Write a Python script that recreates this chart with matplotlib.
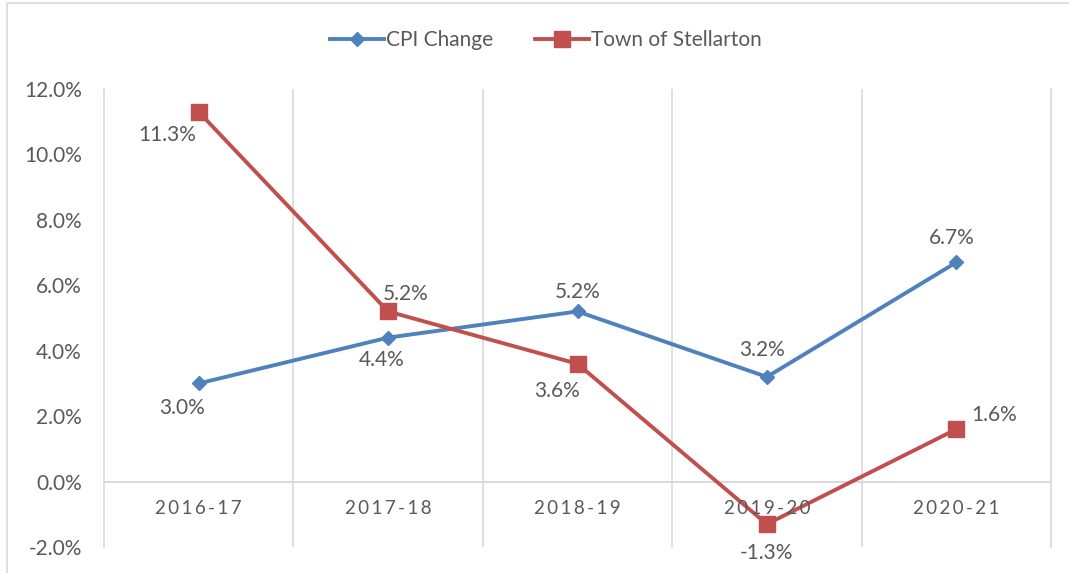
import matplotlib
matplotlib.use("Agg")
import matplotlib.pyplot as plt
from matplotlib.patches import Rectangle
from matplotlib.ticker import FuncFormatter, FixedLocator

years = ["2016-17", "2017-18", "2018-19", "2019-20", "2020-21"]
cpi_change = [3.0, 4.4, 5.2, 3.2, 6.7]
stellarton = [11.3, 5.2, 3.6, -1.3, 1.6]

# label offsets in pixels (dx, dy) for each point
cpi_offsets = [(-17, -25), (-6, -22), (0, 19), (-5, 27), (-5, 24)]
town_offsets = [(-31, -23), (18, 17), (-20, -27), (0, -29), (38, 14)]

blue = "#4F81BD"
red = "#C0504D"
grid_col = "#D9D9D9"
text_col = "#595959"

plt.rcParams["font.family"] = ["Lato", "DejaVu Sans"]

fig = plt.figure(figsize=(10.69, 5.73), dpi=100)
ax = fig.add_axes([104 / 1069, 1 - 547 / 573, (1051 - 104) / 1069, (547 - 89) / 573])

x = list(range(len(years)))
ax.plot(x, cpi_change, color=blue, lw=2.8, marker="D", ms=7.5,
        label="CPI Change", zorder=3)
ax.plot(x, stellarton, color=red, lw=2.8, marker="s", ms=11.5,
        label="Town of Stellarton", zorder=3)

for xi, v, (dx, dy) in zip(x, cpi_change, cpi_offsets):
    ax.annotate(f"{v:.1f}%", (xi, v), xytext=(dx, dy), textcoords="offset pixels",
                ha="center", va="center", fontsize=15, color=text_col, zorder=4)
for xi, v, (dx, dy) in zip(x, stellarton, town_offsets):
    ax.annotate(f"{v:.1f}%", (xi, v), xytext=(dx, dy), textcoords="offset pixels",
                ha="center", va="center", fontsize=15, color=text_col, zorder=4)

# category labels sit just under the zero line
for xi, name in zip(x, years):
    ax.annotate("\u2009".join(name), (xi, 0), xytext=(0, -27), textcoords="offset pixels",
                ha="center", va="center", fontsize=13.5, color=text_col)

ax.set_xlim(-0.5, len(years) - 0.5)
ax.set_ylim(-2, 12)
ax.set_yticks(range(-2, 13, 2))
ax.yaxis.set_major_formatter(FuncFormatter(lambda v, p: f"{v:.1f}%"))
ax.tick_params(axis="y", length=0, pad=16, labelsize=15, labelcolor=text_col)
ax.set_xticks([])
ax.xaxis.set_minor_locator(FixedLocator([i + 0.5 for i in range(len(years) - 1)]))
ax.tick_params(axis="x", which="minor", length=0)
ax.grid(True, axis="x", which="minor", color=grid_col, lw=1.2)
ax.axhline(0, color=grid_col, lw=1.4, zorder=1)

for side in ["top", "bottom"]:
    ax.spines[side].set_visible(False)
for side in ["left", "right"]:
    ax.spines[side].set_color(grid_col)
    ax.spines[side].set_linewidth(1.2)

fig.legend(loc="center", bbox_to_anchor=(546 / 1069, 1 - 40 / 573), ncol=2,
           frameon=False, fontsize=15, labelcolor=text_col, handlelength=2.6,
           columnspacing=2.0, handletextpad=0.1)

# outer chart frame
fig.patches.append(Rectangle((6.5 / 1069, -0.1), 1.1, 1.1 - 3.5 / 573,
                             transform=fig.transFigure, fill=False,
                             edgecolor=grid_col, lw=1.2))

fig.savefig("out.png", dpi=100)
